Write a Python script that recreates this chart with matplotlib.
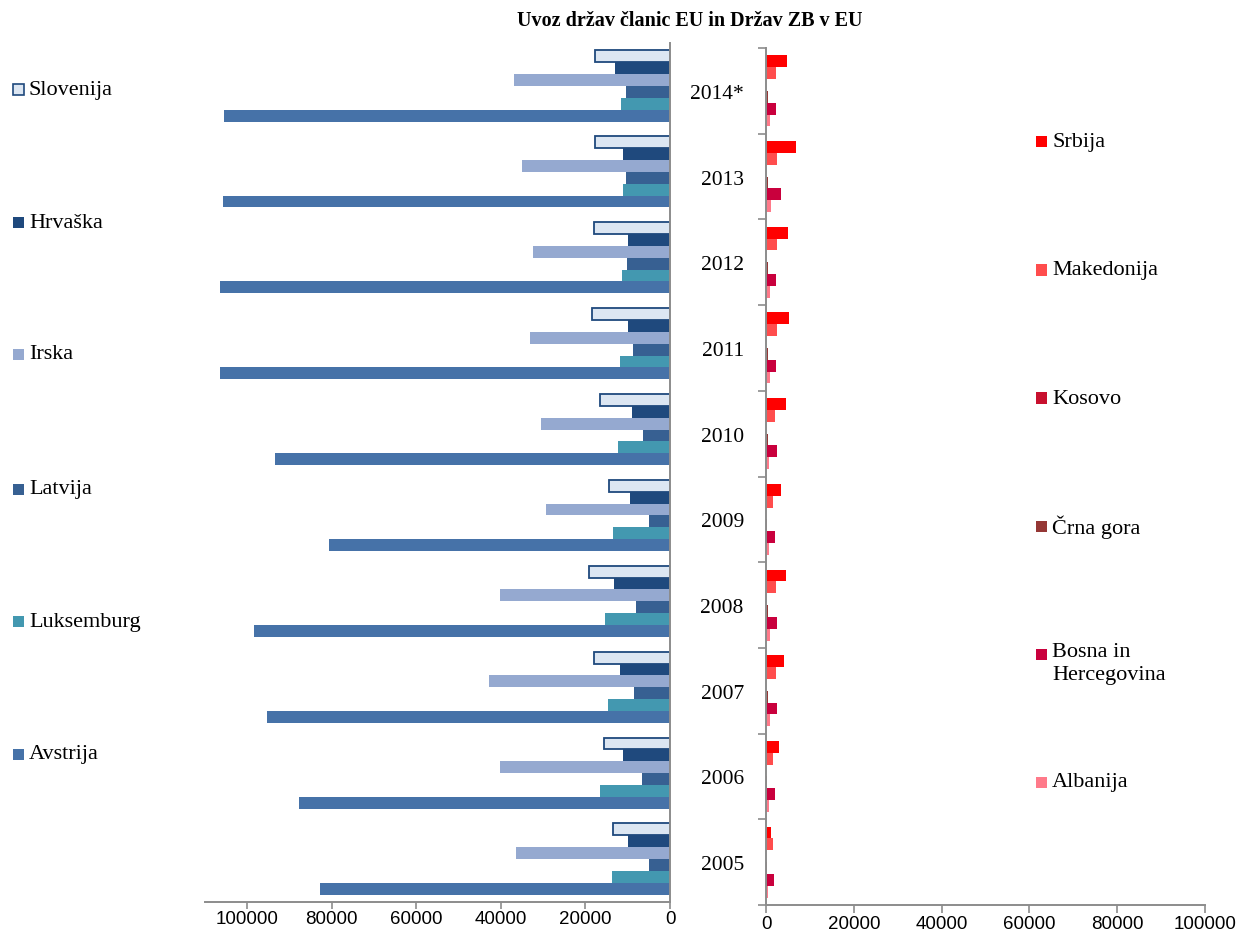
import numpy as np
import matplotlib.pyplot as plt
from matplotlib.patches import Rectangle

years = ['2005', '2006', '2007', '2008', '2009', '2010', '2011', '2012', '2013', '2014*']

# EU member states (left panel), values per year 2005 .. 2014*
eu_names = ['Slovenija', 'Hrvaška', 'Irska', 'Latvija', 'Luksemburg', 'Avstrija']
slovenija = [13500, 15700, 18000, 19200, 14500, 16600, 18500, 18000, 17800, 17800]
hrvaska = [10000, 11100, 11900, 13300, 9500, 9000, 10000, 10000, 11100, 13000]
irska = [36500, 40100, 42700, 40100, 29400, 30600, 33200, 32500, 34900, 37000]
latvija = [5000, 6600, 8500, 8100, 5000, 6400, 8800, 10200, 10400, 10400]
luksemburg = [13700, 16600, 14700, 15400, 13500, 12300, 11900, 11400, 11100, 11600]
avstrija = [82800, 87800, 95400, 98500, 80700, 93500, 106500, 106500, 105800, 105600]

# Western Balkans (right panel)
wb_names = ['Srbija', 'Makedonija', 'Kosovo', 'Črna gora', 'Bosna in\nHercegovina', 'Albanija']
srbija = [1100, 3000, 4200, 4500, 3400, 4500, 5200, 5000, 6800, 4800]
makedonija = [1500, 1600, 2300, 2300, 1500, 2000, 2500, 2500, 2500, 2300]
kosovo = [50, 60, 70, 80, 70, 80, 90, 90, 100, 100]
crna_gora = [250, 300, 350, 400, 300, 350, 400, 400, 400, 400]
bih = [1900, 2000, 2500, 2500, 2000, 2400, 2300, 2300, 3400, 2300]
albanija = [400, 700, 900, 900, 700, 700, 900, 900, 1200, 900]

eu_vals = [slovenija, hrvaska, irska, latvija, luksemburg, avstrija]
wb_vals = [srbija, makedonija, kosovo, crna_gora, bih, albanija]

eu_colors = ['#dce6f2', '#1f497d', '#95a9d0', '#376092', '#4398b0', '#4672a8']
wb_colors = ['#ff0000', '#ff4d4d', '#c8102e', '#953735', '#c9003d', '#ff7a8a']

serif = 'Liberation Serif'
narrow = ['Liberation Sans Narrow', 'Liberation Sans']
spine_col = '#8c8c8c'

W, H = 1240, 945
fig = plt.figure(figsize=(12.4, 9.45), dpi=100)

y = np.arange(len(years))
h = 0.138

# -------- left panel (EU) --------
ax1 = fig.add_axes([205 / W, 1 - 903 / H, (670 - 205) / W, (903 - 44) / H])
for i, (vals, col) in enumerate(zip(eu_vals, eu_colors)):
    off = (2.5 - i) * h
    if i == 0:
        ax1.barh(y + off, vals, height=h, color=col, edgecolor='#1f497d', linewidth=1.3)
    else:
        ax1.barh(y + off, vals, height=h, color=col, linewidth=0)
ax1.set_xlim(110000, 0)
ax1.set_ylim(-0.5, len(years) - 0.5)
ax1.set_xticks([100000, 80000, 60000, 40000, 20000, 0])
ax1.set_yticks([])
for s in ['left', 'top']:
    ax1.spines[s].set_visible(False)
for s in ['right', 'bottom']:
    ax1.spines[s].set_color(spine_col)
    ax1.spines[s].set_linewidth(1.4)
ax1.tick_params(axis='x', direction='out', length=5, width=1.2, color=spine_col, pad=1)
for lab in ax1.get_xticklabels():
    lab.set_family(narrow)
    lab.set_fontsize(13.5)

# -------- right panel (Western Balkans) --------
ax2 = fig.add_axes([766 / W, 1 - 906 / H, (1205 - 766) / W, (906 - 49) / H])
for i, (vals, col) in enumerate(zip(wb_vals, wb_colors)):
    off = (2.5 - i) * h
    ax2.barh(y + off, vals, height=h, color=col, linewidth=0)
ax2.set_xlim(0, 100000)
ax2.set_ylim(-0.5, len(years) - 0.5)
ax2.set_xticks([0, 20000, 40000, 60000, 80000, 100000])
ax2.set_yticks(y)
ax2.set_yticklabels(years, family=serif, fontsize=15.5)
ax2.set_yticks(np.arange(-0.5, len(years), 1.0), minor=True)
ax2.tick_params(axis='y', which='major', length=0, pad=16)
ax2.tick_params(axis='y', which='minor', direction='out', length=6, width=1.2, color=spine_col)
for s in ['right', 'top']:
    ax2.spines[s].set_visible(False)
for s in ['left', 'bottom']:
    ax2.spines[s].set_color(spine_col)
    ax2.spines[s].set_linewidth(1.4)
ax2.tick_params(axis='x', direction='out', length=6, width=1.2, color=spine_col, pad=1)
for lab in ax2.get_xticklabels():
    lab.set_family(narrow)
    lab.set_fontsize(13.5)

# -------- legends --------
def legend_entry(x, yc, label, color, edge=None):
    sz = 11
    fig.patches.append(Rectangle((x / W, 1 - (yc + sz / 2) / H), sz / W, sz / H,
                                 transform=fig.transFigure, facecolor=color,
                                 edgecolor=edge if edge else color, linewidth=1.2 if edge else 0))
    fig.text((x + sz + 5) / W, 1 - yc / H, label, family=serif, fontsize=16,
             ha='left', va='center')

left_y = [90, 223, 355, 490, 622, 755]
for i, name in enumerate(eu_names):
    legend_entry(13, left_y[i], name, eu_colors[i], '#1f497d' if i == 0 else None)

right_y = [142, 271, 399, 527, 655, 783]
for i, name in enumerate(wb_names):
    yy = right_y[i]
    if '\n' in name:
        # two-line label, first line aligned with the marker
        legend_entry(1036, yy, '', wb_colors[i])
        fig.text((1036 + 16) / W, 1 - (yy - 12) / H, name, family=serif, fontsize=16,
                 ha='left', va='top', linespacing=1.3)
    else:
        legend_entry(1036, yy, name, wb_colors[i])

fig.text(690 / W, 1 - 21 / H, 'Uvoz držav članic EU in Držav ZB v EU',
         family=serif, fontsize=14.5, fontweight='bold', ha='center', va='center')

fig.savefig('out.png', dpi=100)
